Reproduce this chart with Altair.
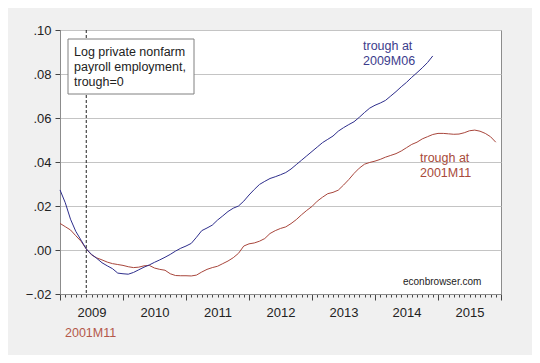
import altair as alt
import pandas as pd

# Log private nonfarm payroll employment, trough = 0, months from 2009M01 (axis in 2009M06-trough dates)
blue_2009 = [0.0273, 0.0215, 0.0140, 0.0085, 0.0045, 0.0005, -0.0020, -0.0038, -0.0058, -0.0072,
             -0.0085, -0.0105, -0.0108, -0.0110, -0.0102, -0.0090, -0.0078, -0.0068, -0.0056, -0.0045,
             -0.0033, -0.0020, -0.0005, 0.0008, 0.0018, 0.0030, 0.0058, 0.0088, 0.0100, 0.0113,
             0.0136, 0.0155, 0.0175, 0.0190, 0.0200, 0.0222, 0.0250, 0.0275, 0.0298, 0.0312,
             0.0325, 0.0333, 0.0342, 0.0352, 0.0368, 0.0388, 0.0408, 0.0428, 0.0448, 0.0468,
             0.0488, 0.0503, 0.0518, 0.0540, 0.0556, 0.0570, 0.0583, 0.0603, 0.0625, 0.0645,
             0.0658, 0.0668, 0.0680, 0.0700, 0.0720, 0.0742, 0.0762, 0.0785, 0.0806, 0.0828,
             0.0852, 0.0882]
red_2001 = [0.0121, 0.0106, 0.0091, 0.0065, 0.0040, 0.0005, -0.0022, -0.0036, -0.0045, -0.0055,
            -0.0062, -0.0066, -0.0070, -0.0076, -0.0080, -0.0078, -0.0072, -0.0070, -0.0082, -0.0088,
            -0.0092, -0.0108, -0.0116, -0.0117, -0.0117, -0.0118, -0.0114, -0.0100, -0.0088, -0.0080,
            -0.0074, -0.0062, -0.0050, -0.0035, -0.0015, 0.0018, 0.0028, 0.0032, 0.0040, 0.0052,
            0.0075, 0.0088, 0.0098, 0.0105, 0.0120, 0.0138, 0.0160, 0.0180, 0.0198, 0.0222,
            0.0240, 0.0256, 0.0262, 0.0272, 0.0295, 0.0320, 0.0348, 0.0372, 0.0390, 0.0398,
            0.0404, 0.0412, 0.0422, 0.0430, 0.0438, 0.0450, 0.0465, 0.0480, 0.0490, 0.0505,
            0.0515, 0.0525, 0.0530, 0.0530, 0.0528, 0.0526, 0.0527, 0.0533, 0.0542, 0.0545,
            0.0540, 0.0530, 0.0515, 0.0490]
year_labels = ["2009", "2010", "2011", "2012", "2013", "2014", "2015"]
y_ticks = [-0.02, 0.0, 0.02, 0.04, 0.06, 0.08, 0.10]
trough_month = [5]

BLUE = "#2e2e8c"
RED = "#a8463c"
FONT = "Liberation Sans"

df = pd.concat([
    pd.DataFrame({"m": range(len(red_2001)), "v": red_2001, "s": "2001M11"}),
    pd.DataFrame({"m": range(len(blue_2009)), "v": blue_2009, "s": "2009M06"}),
])

n_months = 12 * len(year_labels)
label_arr = "[" + ",".join(f"'{y}'" for y in year_labels) + "]"

x_axis = alt.Axis(
    values=list(range(0, n_months + 1)),
    labelExpr=f"datum.value % 12 == 6 ? {label_arr}[floor(datum.value/12)] : ''",
    tickSize={"condition": {"test": "datum.value % 12 == 0", "value": 6}, "value": 3},
    tickColor="#444444",
    domainColor="#8c8c8c",
    grid=False,
    title=None,
    labelOverlap=False,
    labelFlush=False,
    labelPadding=9,
    labelFontSize=13,
    labelFont=FONT,
    labelColor="#222222",
)
x_scale = alt.Scale(domain=[0, n_months], nice=False, zero=False)

y_enc = alt.Y(
    "v:Q",
    scale=alt.Scale(domain=[-0.02, 0.10], nice=False, zero=False),
    axis=alt.Axis(
        values=y_ticks,
        labelExpr="replace(format(datum.value, '.2f'), '0.', '.')",
        tickSize=5,
        tickColor="#444444",
        domainColor="#8c8c8c",
        gridColor="#c4c4c4",
        title=None,
        labelPadding=4,
        labelFontSize=13,
        labelFont=FONT,
        labelColor="#222222",
    ),
)

lines = alt.Chart(df).mark_line(strokeWidth=1).encode(
    x=alt.X("m:Q", scale=x_scale, axis=x_axis),
    y=y_enc,
    color=alt.Color("s:N", scale=alt.Scale(domain=["2001M11", "2009M06"], range=[RED, BLUE]), legend=None),
    detail="s:N",
)

rule = alt.Chart(pd.DataFrame({"m": trough_month})).mark_rule(
    strokeDash=[3, 2], color="#222222", strokeWidth=1
).encode(x=alt.X("m:Q", scale=x_scale, axis=x_axis))

one = pd.DataFrame({"a": [0]})

box = alt.Chart(one).mark_rect(fill="white", stroke="#808080", strokeWidth=1).encode(
    x=alt.value(8), x2=alt.value(134), y=alt.value(9), y2=alt.value(64)
)
box_text = alt.Chart(one).mark_text(
    text=["Log private nonfarm", "payroll employment,", "trough=0"],
    align="left", baseline="alphabetic", lineHeight=15, fontSize=12.5, font=FONT, color="#222222"
).encode(x=alt.value(14), y=alt.value(26))

blue_text = alt.Chart(one).mark_text(
    text=["trough at", "2009M06"],
    align="left", baseline="alphabetic", lineHeight=15, fontSize=12.5, font=FONT, color="#3c3c8c"
).encode(x=alt.value(303), y=alt.value(19.5))

red_text = alt.Chart(one).mark_text(
    text=["trough at", "2001M11"],
    align="left", baseline="alphabetic", lineHeight=15, fontSize=12.5, font=FONT, color="#a84a3a"
).encode(x=alt.value(360), y=alt.value(131.5))

site_text = alt.Chart(one).mark_text(
    text="econbrowser.com", align="left", baseline="alphabetic", fontSize=10, font=FONT, color="#222222"
).encode(x=alt.value(343), y=alt.value(254.5))

red_axis_text = alt.Chart(one).mark_text(
    text="2001M11", align="left", baseline="alphabetic", fontSize=12.5, font=FONT, color="#b4584a"
).encode(x=alt.value(5), y=alt.value(306.5))

chart = alt.layer(
    rule, lines, box, box_text, blue_text, red_text, site_text, red_axis_text
).properties(
    width=441,
    height=264,
    padding={"left": 52, "top": 22, "right": 31, "bottom": 61},
    autosize="none",
    background="#f0f0f0",
).configure_view(
    fill="white", stroke="#8c8c8c", strokeWidth=1
)

chart.save("out.html", embed_options={"renderer": "svg", "actions": False})
